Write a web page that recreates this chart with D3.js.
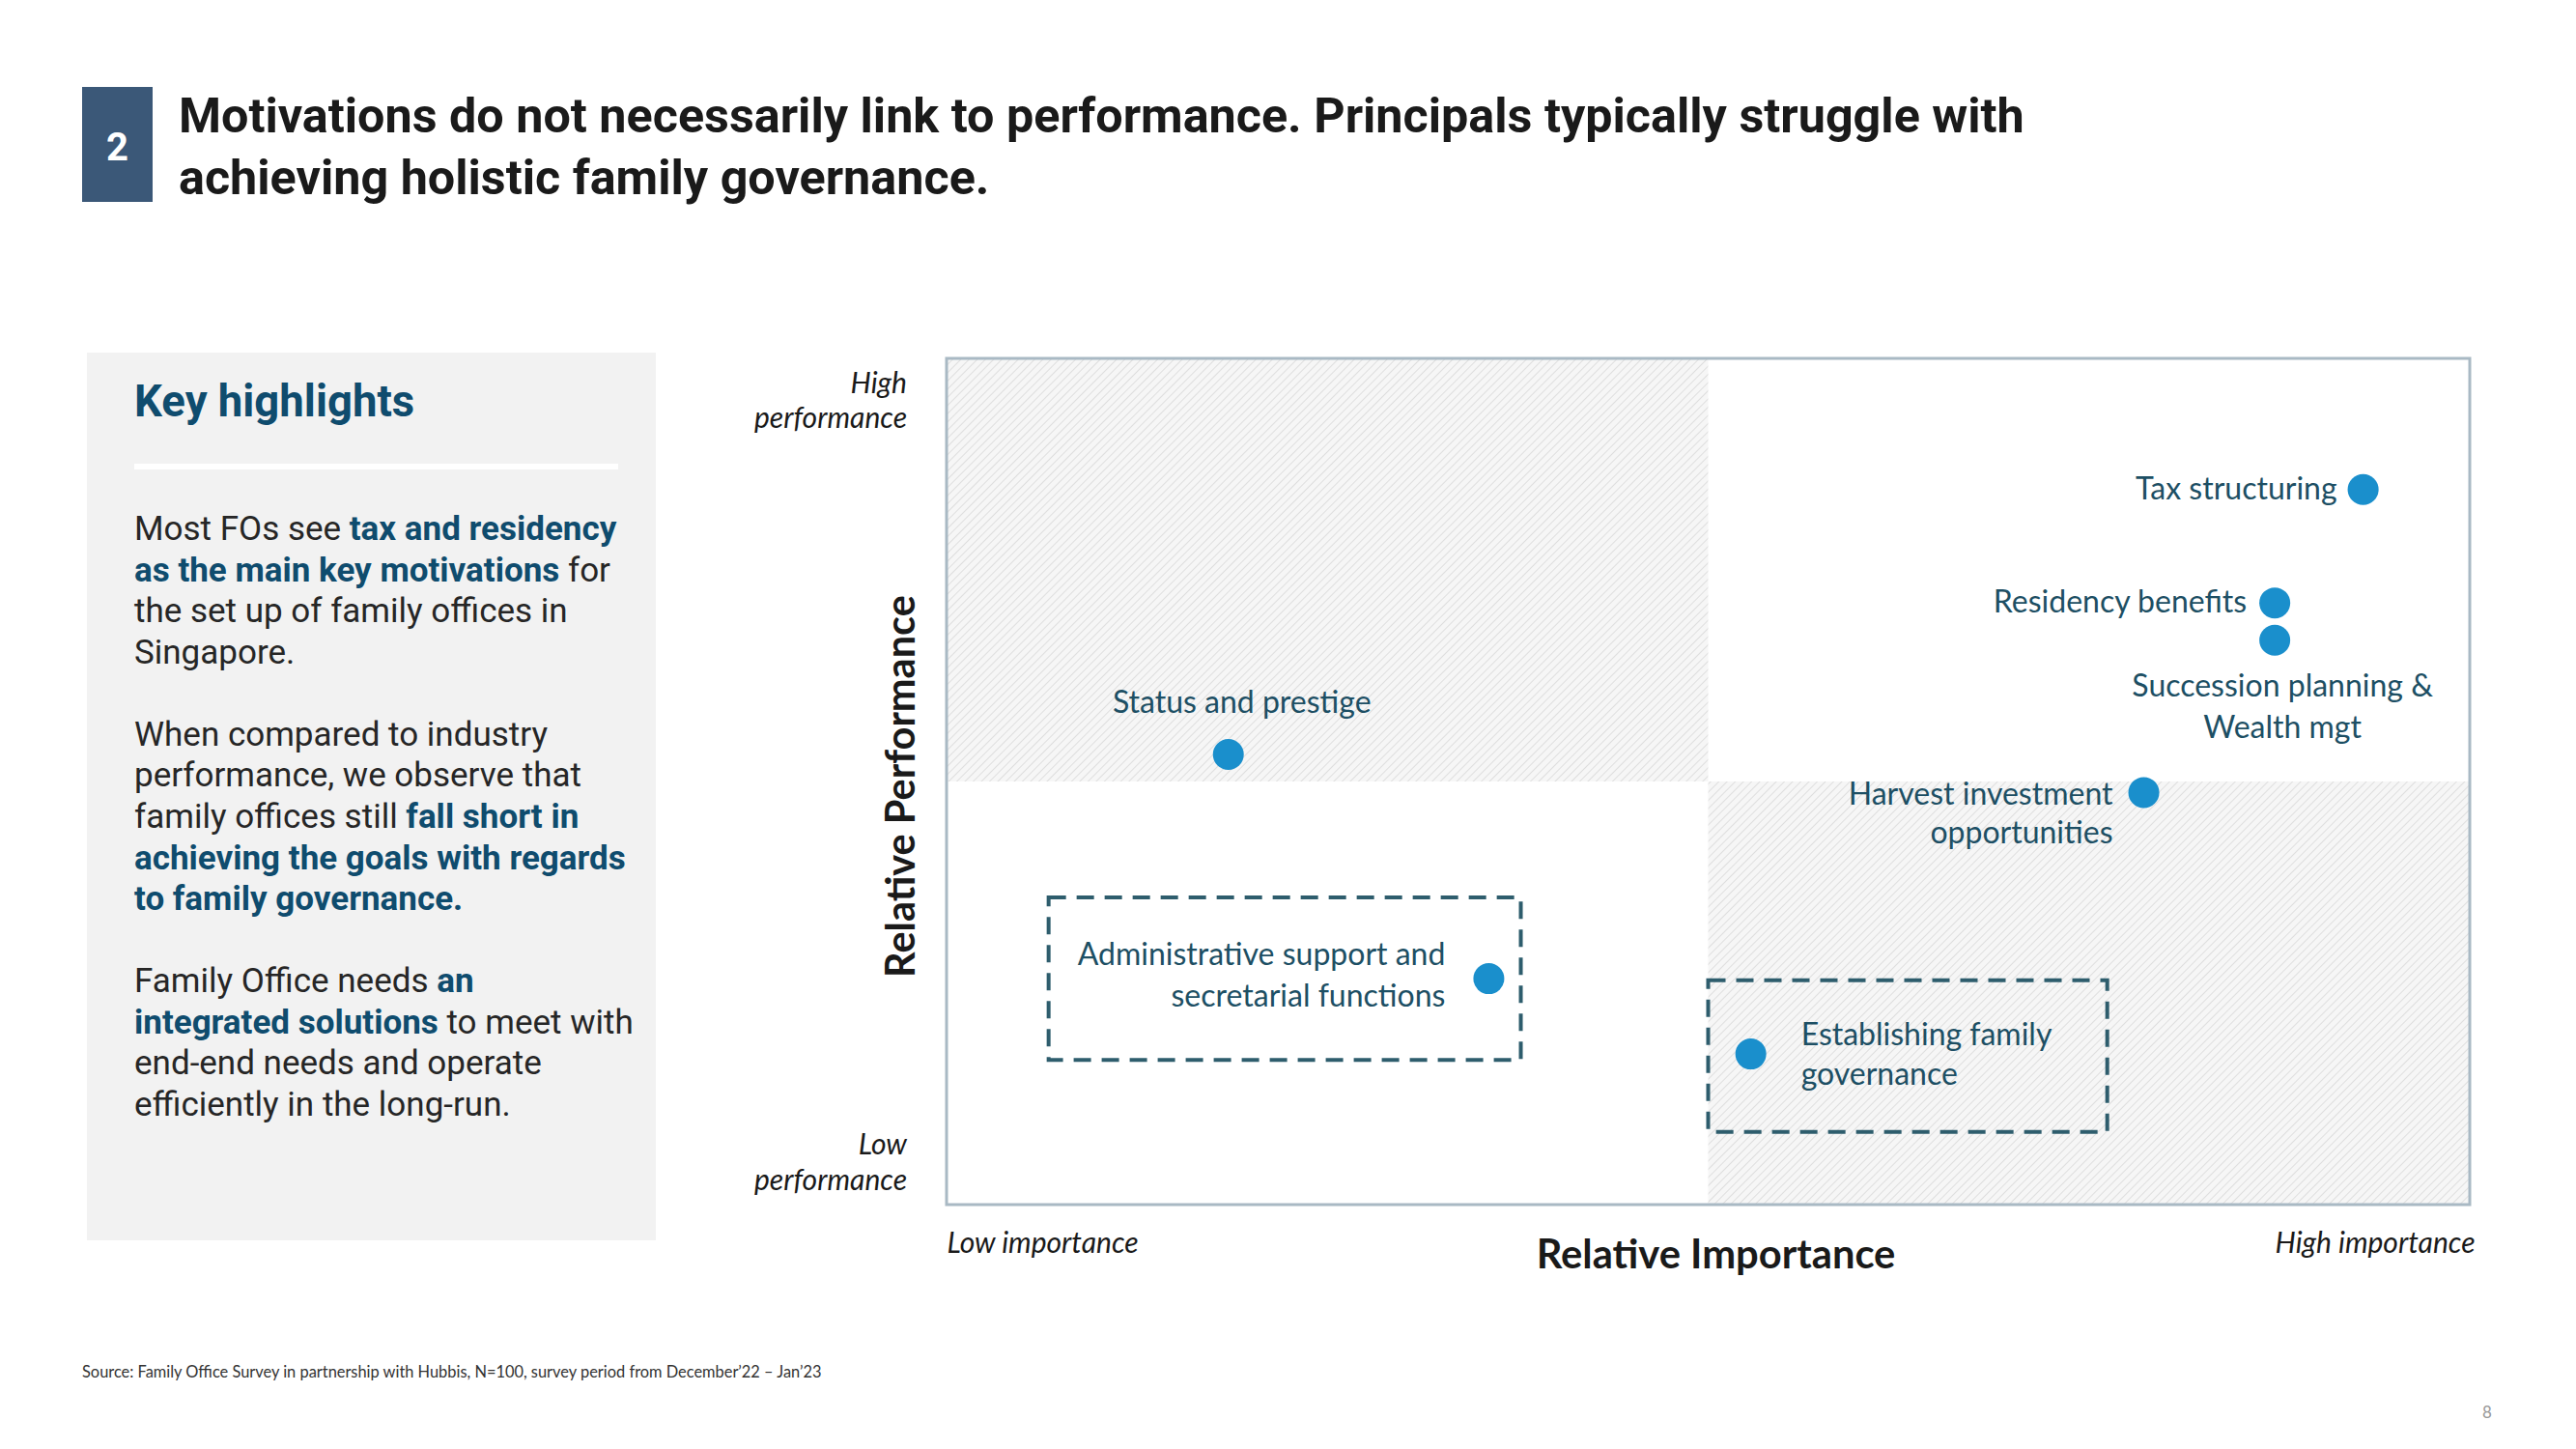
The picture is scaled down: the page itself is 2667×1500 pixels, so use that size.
<!DOCTYPE html>
<html>
<head>
<meta charset="utf-8">
<script src="https://cdn.jsdelivr.net/npm/d3@7"></script>
<style>
	html, body { margin: 0; padding: 0; background: #fff; }
	svg { display: block; }
</style>
</head>
<body>
<svg class="matrix" width="2667" height="1500"></svg>
<script>
// chart values
let motivations = ['Tax structuring', 'Residency benefits', 'Succession planning & Wealth mgt', 'Status and prestige',
	'Harvest investment opportunities', 'Administrative support and secretarial functions', 'Establishing family governance'];
let importance = [9.3, 8.72, 8.72, 1.85, 7.86, 3.56, 5.28];
let performance = [8.45, 7.11, 6.67, 5.32, 4.87, 2.67, 1.78];
let labelLines = [
	['Tax structuring'],
	['Residency benefits'],
	['Succession planning &', 'Wealth mgt'],
	['Status and prestige'],
	['Harvest investment', 'opportunities'],
	['Administrative support and', 'secretarial functions'],
	['Establishing family', 'governance']
];
// dashed focus boxes, in importance / performance units
let focusNames = ['Administrative support and secretarial functions', 'Establishing family governance'];
let focusImportance = [[0.67, 3.77], [5.0, 7.62]];
let focusPerformance = [[1.71, 3.63], [0.86, 2.65]];

let xEndLabels = ['Low importance', 'High importance'];
let yEndLabels = [['High', 'performance'], ['Low', 'performance']];
let axisTitles = ['Relative Importance', 'Relative Performance'];

let titleLines = ['Motivations do not necessarily link to performance. Principals typically struggle with',
	'achieving holistic family governance.'];
let highlightLines = [
	[['Most FOs see ', 0], ['tax and residency', 1]],
	[['as the main key motivations', 1], [' for', 0]],
	[['the set up of family offices in', 0]],
	[['Singapore.', 0]],
	[],
	[['When compared to industry', 0]],
	[['performance, we observe that', 0]],
	[['family offices still ', 0], ['fall short in', 1]],
	[['achieving the goals with regards', 1]],
	[['to family governance.', 1]],
	[],
	[['Family Office needs ', 0], ['an', 1]],
	[['integrated solutions', 1], [' to meet with', 0]],
	[['end-end needs and operate', 0]],
	[['efficiently in the long-run.', 0]]
];
let sourceNote = 'Source: Family Office Survey in partnership with Hubbis, N=100, survey period from December\u201922 \u2013 Jan\u201923';

// label placement next to each dot (pixels)
let labelLayout = [
	{ anchor: 'end', dx: -27, dy: [10] },
	{ anchor: 'end', dx: -29, dy: [10] },
	{ anchor: 'middle', dx: 8, dy: [58, 101] },
	{ anchor: 'middle', dx: 14, dy: [-43] },
	{ anchor: 'end', dx: -32, dy: [13, 53] },
	{ anchor: 'end', dx: -45, dy: [-14, 29] },
	{ anchor: 'start', dx: 52, dy: [-9, 32] }
];

let plot = { left: 980, right: 2557, top: 371, bottom: 1247 };
let x = d3.scaleLinear().domain([0, 10]).range([plot.left, plot.right]);
let y = d3.scaleLinear().domain([0, 10]).range([plot.bottom, plot.top]);

let colors = { dot: '#1a8fcc', label: '#1d4f64', box: '#2e5d6d', border: '#a9b9c4', accent: '#0f4c6e', text: '#262626' };
let labelFont = 'Lato, sans-serif';

let svg = d3.select('.matrix');

/* HEADER */
function drawHeader() {
	svg.append('rect').attr('x', 85).attr('y', 90).attr('width', 73).attr('height', 119).attr('fill', '#3b5878');
	svg.append('text').attr('x', 121.5).attr('y', 166).attr('text-anchor', 'middle')
		.style('font', '700 40px Roboto').attr('fill', '#fff').text('2');

	svg.append('g').selectAll('text')
		.data(titleLines)
		.enter()
		.append('text')
		.attr('x', 185)
		.attr('y', function(d, i) { return 137 + i * 64; })
		.style('font', '700 50.3px Roboto')
		.attr('fill', '#1a1a1a')
		.text(function(d) { return d; });
}

/* KEY HIGHLIGHTS PANEL */
function drawPanel() {
	svg.append('rect').attr('x', 90).attr('y', 365).attr('width', 589).attr('height', 919).attr('fill', '#f2f2f2');
	svg.append('text').attr('x', 139).attr('y', 431)
		.style('font', '700 45.5px Roboto').attr('fill', colors.accent).text('Key highlights');
	svg.append('line').attr('x1', 139).attr('x2', 640).attr('y1', 483).attr('y2', 483)
		.attr('stroke', '#fff').attr('stroke-width', 6);

	let lines = svg.append('g').selectAll('text')
		.data(highlightLines)
		.enter()
		.append('text')
		.attr('x', 139)
		.attr('y', function(d, i) { return 559 + i * 42.57; })
		.style('font-family', 'Roboto')
		.style('font-size', '35px');

	lines.selectAll('tspan')
		.data(function(d) { return d; })
		.enter()
		.append('tspan')
		.attr('font-weight', function(d) { return d[1] ? 700 : 400; })
		.attr('fill', function(d) { return d[1] ? colors.accent : colors.text; })
		.text(function(d) { return d[0]; });
}

/* MATRIX */
function drawMatrix() {
	let defs = svg.append('defs');
	let hatch = defs.append('pattern')
		.attr('id', 'hatch')
		.attr('width', 6).attr('height', 6)
		.attr('patternUnits', 'userSpaceOnUse')
		.attr('patternTransform', 'rotate(45)');
	hatch.append('rect').attr('width', 6).attr('height', 6).attr('fill', '#f6f6f6');
	hatch.append('line').attr('x1', 0).attr('y1', 0).attr('x2', 0).attr('y2', 6)
		.attr('stroke', '#dedede').attr('stroke-width', 2);

	// shaded quadrants: low importance / high performance and high importance / low performance
	let shaded = [[0, 5, 5, 10], [5, 10, 0, 5]];
	svg.append('g').selectAll('rect')
		.data(shaded)
		.enter()
		.append('rect')
		.attr('x', function(d) { return x(d[0]); })
		.attr('y', function(d) { return y(d[3]); })
		.attr('width', function(d) { return x(d[1]) - x(d[0]); })
		.attr('height', function(d) { return y(d[2]) - y(d[3]); })
		.attr('fill', 'url(#hatch)');

	svg.append('rect')
		.attr('x', x(0)).attr('y', y(10))
		.attr('width', x(10) - x(0)).attr('height', y(0) - y(10))
		.attr('fill', 'none')
		.attr('stroke', colors.border)
		.attr('stroke-width', 3);

	// dashed focus boxes
	svg.append('g').selectAll('rect')
		.data(focusNames)
		.enter()
		.append('rect')
		.attr('x', function(d, i) { return x(focusImportance[i][0]); })
		.attr('y', function(d, i) { return y(focusPerformance[i][1]); })
		.attr('width', function(d, i) { return x(focusImportance[i][1]) - x(focusImportance[i][0]); })
		.attr('height', function(d, i) { return y(focusPerformance[i][0]) - y(focusPerformance[i][1]); })
		.attr('fill', 'none')
		.attr('stroke', colors.box)
		.attr('stroke-width', 4)
		.attr('stroke-dasharray', '18,11');

	let points = svg.append('g').selectAll('g')
		.data(motivations)
		.enter()
		.append('g')
		.attr('transform', function(d, i) { return 'translate(' + x(importance[i]) + ',' + y(performance[i]) + ')'; });

	points.append('circle')
		.attr('r', 16)
		.attr('fill', colors.dot);

	let labels = points.append('text')
		.attr('text-anchor', function(d, i) { return labelLayout[i].anchor; })
		.style('font-family', labelFont)
		.style('font-size', '32px')
		.attr('fill', colors.label);

	labels.selectAll('tspan')
		.data(function(d, i) { return labelLines[i].map(function(t, j) { return { text: t, dx: labelLayout[i].dx, dy: labelLayout[i].dy[j] }; }); })
		.enter()
		.append('tspan')
		.attr('x', function(d) { return d.dx; })
		.attr('y', function(d) { return d.dy; })
		.text(function(d) { return d.text; });
}

/* AXES */
function drawAxes() {
	let xAxis = svg.append('g')
		.attr('class', 'x-axis')
		.attr('transform', 'translate(0,' + plot.bottom + ')')
		.call(d3.axisBottom(x).tickValues([0, 10]).tickSize(0)
			.tickFormat(function(d, i) { return xEndLabels[i]; }));
	xAxis.select('.domain').remove();
	xAxis.selectAll('text')
		.attr('y', 0)
		.attr('dy', 50)
		.attr('dx', function(d, i) { return i === 0 ? 0 : 5; })
		.attr('fill', '#1a1a1a')
		.attr('text-anchor', function(d, i) { return i === 0 ? 'start' : 'end'; })
		.style('font', 'italic 400 30px Lato');

	let yLabels = svg.append('g').selectAll('text')
		.data(yEndLabels)
		.enter()
		.append('text')
		.attr('text-anchor', 'end')
		.attr('fill', '#1a1a1a')
		.style('font', 'italic 400 30px Lato');

	yLabels.selectAll('tspan')
		.data(function(d, i) { return d.map(function(t, j) { return { text: t, row: i, line: j }; }); })
		.enter()
		.append('tspan')
		.attr('x', plot.left - 41)
		.attr('y', function(d) { return d.row === 0 ? y(10) + 36 + d.line * 36 : y(0) - 52 + d.line * 37; })
		.text(function(d) { return d.text; });

	svg.append('text')
		.attr('x', (plot.left + plot.right) / 2 + 8)
		.attr('y', 1313)
		.attr('text-anchor', 'middle')
		.attr('fill', '#1a1a1a')
		.style('font', '700 41.7px Lato')
		.text(axisTitles[0]);

	svg.append('text')
		.attr('transform', 'translate(947,' + ((plot.top + plot.bottom) / 2 + 5) + ') rotate(-90)')
		.attr('text-anchor', 'middle')
		.attr('fill', '#1a1a1a')
		.style('font', '700 41.5px Lato')
		.text(axisTitles[1]);
}

/* FOOTER */
function drawFooter() {
	svg.append('text').attr('x', 85).attr('y', 1426)
		.style('font', '400 16.4px Lato').attr('fill', '#333').text(sourceNote);
	svg.append('text').attr('x', 2575).attr('y', 1468).attr('text-anchor', 'middle')
		.style('font', '400 17px Lato').attr('fill', '#999').text('8');
}

drawHeader();
drawPanel();
drawMatrix();
drawAxes();
drawFooter();
</script>
</body>
</html>
